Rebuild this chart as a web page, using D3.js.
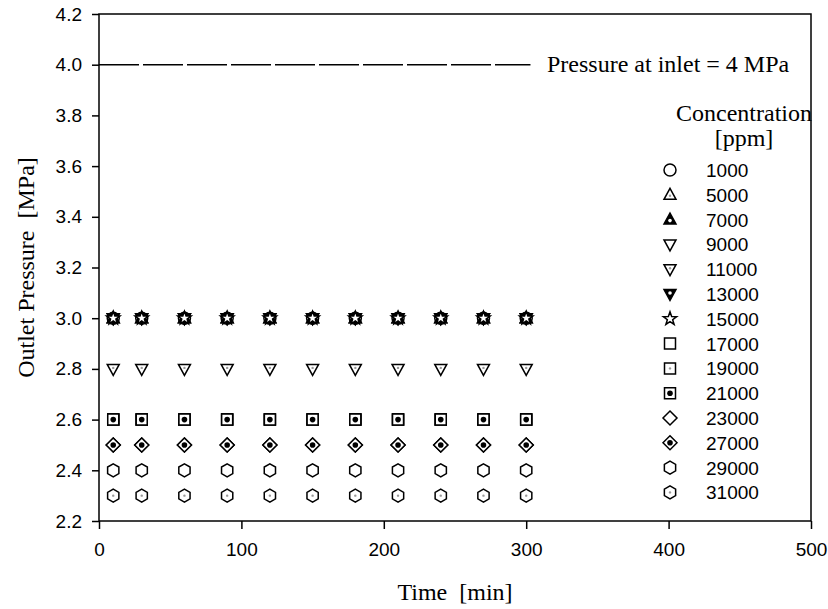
<!DOCTYPE html>
<html>
<head>
<meta charset="utf-8">
<script src="https://cdn.jsdelivr.net/npm/d3@7"></script>
<style>
  body { margin: 0; background: #fff; }
  svg { display: block; }
  text { white-space: pre; }
</style>
</head>
<body>
<svg id="chart" width="828" height="609"></svg>
<script>
// sample times [min]
var times = [10, 30, 60, 90, 120, 150, 180, 210, 240, 270, 300];

// concentrations [ppm] and their outlet pressure [MPa]
var concentrations = [1000, 5000, 7000, 9000, 11000, 13000, 15000, 17000, 19000, 21000, 23000, 27000, 29000, 31000];
var pressures      = [3.0,  3.0,  3.0,  3.0,  2.8,   3.0,   3.0,   2.6,   2.6,   2.6,   2.5,   2.5,   2.4,   2.3];
var symbols = ["circle", "triUpDot", "triUpFill", "triDown", "triDownDot", "triDownFill", "star",
               "square", "squareDot", "squareFill", "diamond", "diamondFill", "hexagon", "hexagonDot"];

var inletPressure = 4.0;
var inletSpan = [0, 303];

var xTicks = [0, 100, 200, 300, 400, 500];
var yTicks = [2.2, 2.4, 2.6, 2.8, 3.0, 3.2, 3.4, 3.6, 3.8, 4.0, 4.2];

var svg = d3.select("#chart");
var plotLeft = 99, plotRight = 811, plotTop = 14, plotBottom = 521;
var serif = "'Liberation Serif', 'Times New Roman', serif";

var x = d3.scaleLinear().domain([0, 500]).range([plotLeft, plotRight]);
var y = d3.scaleLinear().domain([2.2, 4.2]).range([plotBottom, plotTop]);

// frame
svg.append("rect")
    .attr("x", plotLeft).attr("y", plotTop)
    .attr("width", plotRight - plotLeft).attr("height", plotBottom - plotTop)
    .attr("fill", "none").attr("stroke", "#000").attr("stroke-width", 1.5);

var xAxis = svg.append("g")
    .attr("transform", "translate(0," + plotBottom + ")")
    .call(d3.axisBottom(x).tickValues(xTicks).tickSize(8).tickPadding(14).tickFormat(d3.format("d")));
var yAxis = svg.append("g")
    .attr("transform", "translate(" + plotLeft + ",0)")
    .call(d3.axisLeft(y).tickValues(yTicks).tickSize(7).tickPadding(10).tickFormat(d3.format(".1f")));

[xAxis, yAxis].forEach(function(g) {
    g.select(".domain").remove();
    g.selectAll("line").attr("stroke", "#000").attr("stroke-width", 1.5);
    g.selectAll("text").attr("fill", "#000")
        .style("font-family", "'Liberation Sans', Arial, sans-serif")
        .style("font-size", "19px");
});

// axis titles
svg.append("text")
    .attr("x", (plotLeft + plotRight) / 2).attr("y", 600)
    .attr("text-anchor", "middle")
    .style("font-family", serif)
    .style("font-size", "24px")
    .text("Time  [min]");

svg.append("text")
    .attr("transform", "translate(34," + (plotTop + plotBottom) / 2 + ") rotate(-90)")
    .attr("text-anchor", "middle")
    .style("font-family", serif)
    .style("font-size", "24px")
    .text("Outlet Pressure  [MPa]");

// inlet pressure line
svg.append("line")
    .attr("x1", x(inletSpan[0])).attr("x2", x(inletSpan[1]))
    .attr("y1", y(inletPressure)).attr("y2", y(inletPressure))
    .attr("stroke", "#000").attr("stroke-width", 1.5)
    .attr("stroke-dasharray", "40,4");

svg.append("text")
    .attr("x", 547).attr("y", y(inletPressure) + 7)
    .style("font-family", serif)
    .style("font-size", "24px")
    .text("Pressure at inlet = 4 MPa");

// marker shapes
function shapePath(name) {
    var base = name.replace(/(Dot|Fill)$/, "");
    switch (base) {
        case "circle": return "M6,0A6,6 0 1,1 -6,0A6,6 0 1,1 6,0Z";
        case "triUp": return "M0,-6.5L6,4.5L-6,4.5Z";
        case "triDown": return "M0,6.5L6,-4.5L-6,-4.5Z";
        case "square": return "M-5.5,-5.5H5.5V5.5H-5.5Z";
        case "diamond": return "M0,-7L7,0L0,7L-7,0Z";
        case "hexagon":
            return d3.line()(d3.range(6).map(function(i) {
                var a = Math.PI / 3 * i - Math.PI / 2;
                return [6.5 * Math.cos(a), 6.5 * Math.sin(a)];
            })) + "Z";
        case "star":
            return d3.line()(d3.range(10).map(function(i) {
                var a = Math.PI / 5 * i - Math.PI / 2;
                var r = i % 2 ? 2.8 : 7;
                return [r * Math.cos(a), r * Math.sin(a)];
            })) + "Z";
    }
}

function drawMarker(g, name) {
    var filledShape = /^tri(Up|Down)Fill$/.test(name);
    g.append("path")
        .attr("d", shapePath(name))
        .attr("fill", filledShape ? "#000" : "#fff")
        .attr("stroke", "#000").attr("stroke-width", 1.5)
        .attr("stroke-linejoin", "miter");
    var cy = /^triUp/.test(name) ? 1 : (/^triDown/.test(name) ? -1 : 0);
    if (/Dot$/.test(name)) {
        g.append("circle").attr("cx", 0).attr("cy", cy).attr("r", 1.2).attr("fill", "#999");
    } else if (filledShape) {
        g.append("circle").attr("cx", 0).attr("cy", cy).attr("r", 1.8).attr("fill", "#fff");
    } else if (/Fill$/.test(name)) {
        g.append("circle").attr("cx", 0).attr("cy", 0).attr("r", 2.8).attr("fill", "#000");
    }
}

// data points
var series = concentrations.map(function(c, i) {
    return { conc: c, p: pressures[i], sym: symbols[i] };
});

var seriesG = svg.append("g").selectAll(".series")
    .data(series)
    .enter().append("g")
    .classed("series", true);

seriesG.each(function(s) {
    d3.select(this).selectAll(".pt")
        .data(times)
        .enter().append("g")
        .classed("pt", true)
        .attr("transform", function(t) { return "translate(" + x(t) + "," + y(s.p) + ")"; })
        .each(function() { drawMarker(d3.select(this), s.sym); });
});

// legend
var legendTop = 170, legendStep = 24.8;
svg.append("text")
    .attr("x", 744).attr("y", 121)
    .attr("text-anchor", "middle")
    .style("font-family", serif)
    .style("font-size", "24px")
    .text("Concentration");
svg.append("text")
    .attr("x", 744).attr("y", 146)
    .attr("text-anchor", "middle")
    .style("font-family", serif)
    .style("font-size", "24px")
    .text("[ppm]");

var legendItem = svg.append("g").selectAll(".legend-item")
    .data(series)
    .enter().append("g")
    .classed("legend-item", true)
    .attr("transform", function(d, i) { return "translate(0," + (legendTop + i * legendStep) + ")"; });

legendItem.append("g")
    .attr("transform", "translate(670,0)")
    .each(function(d) { drawMarker(d3.select(this), d.sym); });

legendItem.append("text")
    .attr("x", 706).attr("y", 7)
    .style("font-family", "'Liberation Sans', Arial, sans-serif")
    .style("font-size", "19px")
    .text(function(d) { return d.conc; });
</script>
</body>
</html>
